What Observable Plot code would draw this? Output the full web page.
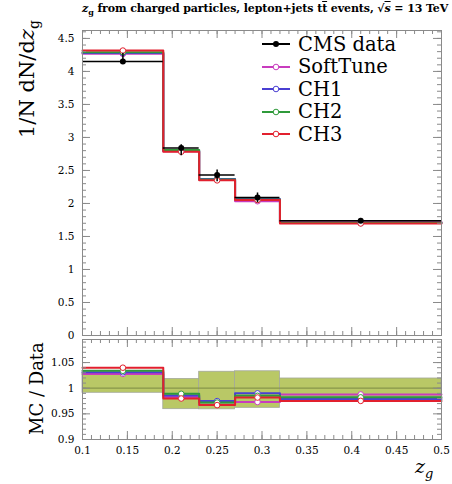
<!DOCTYPE html>
<html>
<head>
<meta charset="utf-8">
<script src="https://cdn.jsdelivr.net/npm/d3@7"></script>
<script src="https://cdn.jsdelivr.net/npm/@observablehq/plot@0.6"></script>
<style>
  html, body { margin: 0; padding: 0; background: white; }
  #wrap { position: relative; width: 452px; height: 484px; overflow: hidden; font-family: "DejaVu Serif", serif; }
  #wrap > svg, #wrap > .p { position: absolute; left: 0; }
  .title { position: absolute; top: 2px; left: 82px; width: 359px; text-align: center; font: bold 11px "DejaVu Serif", serif; white-space: nowrap; letter-spacing: -0.1px; }
  .ylab { position: absolute; font-size: 19px; white-space: nowrap; transform-origin: 0 0; transform: rotate(-90deg); }
  .legend { position: absolute; left: 261px; top: 33px; }
  .legend .row { height: 22.5px; display: flex; align-items: center; font-size: 19.5px; white-space: nowrap; }
  .legend svg { margin-right: 7px; }
  .xlab { position: absolute; left: 415px; top: 455px; font-size: 19px; font-style: italic; }
</style>
</head>
<body>
<div id="wrap"></div>
<script>
// ---- data ----
const binEdges = [0.1, 0.19, 0.23, 0.27, 0.32, 0.5];
const binCenters = [0.145, 0.21, 0.25, 0.295, 0.41];
const cmsData = [4.15, 2.84, 2.43, 2.09, 1.74];
const cmsErrUp = [0.125, 0.051, 0.078, 0.069, 0.033];
const cmsErrDown = [0.037, 0.116, 0.100, 0.080, 0.030];
const softTune = [4.266, 2.792, 2.364, 2.034, 1.719];
const ch1 = [4.279, 2.800, 2.369, 2.069, 1.703];
const ch2 = [4.291, 2.809, 2.362, 2.059, 1.709];
const ch3 = [4.316, 2.783, 2.350, 2.052, 1.697];
const seriesNames = ["SoftTune", "CH1", "CH2", "CH3"];
const seriesColors = ["#c83cbe", "#4a3fd2", "#2f9a3a", "#e2202e"];
const seriesValues = [softTune, ch1, ch2, ch3];
const legendLabels = ["CMS data", "SoftTune", "CH1", "CH2", "CH3"];
const xTickLabels = [0.1, 0.15, 0.2, 0.25, 0.3, 0.35, 0.4, 0.45, 0.5];
const yTickLabelsTop = [0, 0.5, 1, 1.5, 2, 2.5, 3, 3.5, 4, 4.5];
const yTickLabelsRatio = [0.9, 0.95, 1, 1.05];

// ---- layout ----
const W = 452, ML = 82, MR = 11;
const FW = W - ML - MR;
const xMinor = d3.range(0.1, 0.5001, 0.01);
const fmt = d3.format("~g");
const frameColor = "#8a8a8a";

const bins = binCenters.map((c, i) => ({
  lo: binEdges[i], hi: binEdges[i + 1], c,
  data: cmsData[i], up: cmsErrUp[i], down: cmsErrDown[i]
}));
function steps(vals, ratio) {
  return vals.flatMap((v, i) => {
    const y = ratio ? v / cmsData[i] : v;
    return [{x: binEdges[i], y}, {x: binEdges[i + 1], y}];
  });
}
function tickMarks(xMaj, xMin, yMaj, yMin, fh) {
  const s = {stroke: frameColor, strokeWidth: 1};
  return [
    Plot.tickX(xMaj, {x: d => d, insetTop: fh - 8, ...s}),
    Plot.tickX(xMaj, {x: d => d, insetBottom: fh - 8, ...s}),
    Plot.tickX(xMin, {x: d => d, insetTop: fh - 4, ...s}),
    Plot.tickX(xMin, {x: d => d, insetBottom: fh - 4, ...s}),
    Plot.tickY(yMaj, {y: d => d, insetRight: FW - 8, ...s}),
    Plot.tickY(yMaj, {y: d => d, insetLeft: FW - 8, ...s}),
    Plot.tickY(yMin, {y: d => d, insetRight: FW - 4, ...s}),
    Plot.tickY(yMin, {y: d => d, insetLeft: FW - 4, ...s}),
    Plot.frame({stroke: frameColor, strokeWidth: 1})
  ];
}

// ---- top panel ----
const topH = 340, topMT = 30, topMB = 5;
const topPlot = Plot.plot({
  width: W, height: topH,
  marginLeft: ML, marginRight: MR, marginTop: topMT, marginBottom: topMB,
  style: {fontFamily: "DejaVu Serif, serif", fontSize: "10.5px", background: "transparent", overflow: "visible"},
  x: {domain: [0.1, 0.5], axis: null},
  y: {domain: [0, 4.62], ticks: yTickLabelsTop, tickFormat: fmt, tickSize: 0, tickPadding: 8, label: null},
  marks: [
    ...seriesValues.map((vals, k) => Plot.line(steps(vals, false), {x: "x", y: "y", stroke: seriesColors[k], strokeWidth: 2})),
    ...seriesValues.map((vals, k) => Plot.dot(binCenters.map((c, i) => ({c, v: vals[i]})), {x: "c", y: "v", r: 2.8, fill: "white", stroke: seriesColors[k], strokeWidth: 1})),
    Plot.ruleY(bins, {y: "data", x1: "lo", x2: "hi", stroke: "black", strokeWidth: 1.5}),
    Plot.ruleX(bins, {x: "c", y1: d => d.data - d.down, y2: d => d.data + d.up, stroke: "black", strokeWidth: 1.5}),
    Plot.dot(bins, {x: "c", y: "data", r: 3, fill: "black"}),
    ...tickMarks(xTickLabels, xMinor, yTickLabelsTop, d3.range(0, 4.62, 0.1), topH - topMT - topMB)
  ]
});

// ---- ratio panel ----
const botTop = 335, botH = 149, botMT = 4, botMB = 45;
const botPlot = Plot.plot({
  width: W, height: botH,
  marginLeft: ML, marginRight: MR, marginTop: botMT, marginBottom: botMB,
  style: {fontFamily: "DejaVu Serif, serif", fontSize: "10.5px", background: "transparent", overflow: "visible"},
  x: {domain: [0.1, 0.5], ticks: xTickLabels, tickFormat: fmt, tickSize: 0, tickPadding: 7, label: null},
  y: {domain: [0.9, 1.095], ticks: yTickLabelsRatio, tickFormat: fmt, tickSize: 0, tickPadding: 8, label: null},
  marks: [
    Plot.rect(bins, {x1: "lo", x2: "hi", y1: d => 1 - d.down / d.data, y2: d => 1 + d.up / d.data, fill: "#b9c866", stroke: "#a3a89a", strokeWidth: 0.8}),
    Plot.ruleY([1], {stroke: "#87964a", strokeWidth: 1.2}),
    ...seriesValues.map((vals, k) => Plot.line(steps(vals, true), {x: "x", y: "y", stroke: seriesColors[k], strokeWidth: 2})),
    ...seriesValues.map((vals, k) => Plot.dot(binCenters.map((c, i) => ({c, v: vals[i] / cmsData[i]})), {x: "c", y: "v", r: 2.8, fill: "white", stroke: seriesColors[k], strokeWidth: 1})),
    ...tickMarks(xTickLabels, xMinor, yTickLabelsRatio, d3.range(0.9, 1.0951, 0.01), botH - botMT - botMB)
  ]
});

const wrap = document.getElementById("wrap");
topPlot.style.top = "0px";
botPlot.style.top = botTop + "px";
wrap.appendChild(topPlot);
wrap.appendChild(botPlot);

// title
const title = document.createElement("div");
title.className = "title";
title.innerHTML = '<i>z</i><sub style="font-size:8px">g</sub> from charged particles, lepton+jets t<span style="text-decoration:overline">t</span> events, &radic;<span style="text-decoration:overline"><i>s</i></span> = 13 TeV';
wrap.appendChild(title);

// y labels
const yl1 = document.createElement("div");
yl1.className = "ylab";
yl1.style.fontSize = "21px";
yl1.innerHTML = '1/N dN/d<i>z</i><sub style="font-size:14px">g</sub>';
wrap.appendChild(yl1);
const yl2 = document.createElement("div");
yl2.className = "ylab";
yl2.style.fontSize = "18px";
yl2.textContent = "MC / Data";
wrap.appendChild(yl2);
function placeY(el, xLeft, yTopEnd, yCenter) {
  const w = el.offsetWidth;
  el.style.left = xLeft + "px";
  if (yCenter != null) el.style.top = (yCenter + w / 2) + "px";
  else el.style.top = (yTopEnd + w) + "px";
}
placeY(yl1, 15, 20, null);
placeY(yl2, 26, null, 388);

// legend
const leg = document.createElement("div");
leg.className = "legend";
legendLabels.forEach((lab, i) => {
  const row = document.createElement("div");
  row.className = "row";
  const color = i === 0 ? "black" : seriesColors[i - 1];
  const mk = i === 0
    ? `<circle cx="15" cy="6" r="3" fill="black"/>`
    : `<circle cx="15" cy="6" r="2.8" fill="white" stroke="${color}" stroke-width="1"/>`;
  row.innerHTML = `<svg width="30" height="12"><line x1="1" x2="29" y1="6" y2="6" stroke="${color}" stroke-width="2"/>${mk}</svg><span>${lab}</span>`;
  leg.appendChild(row);
});
wrap.appendChild(leg);

// x label
const xl = document.createElement("div");
xl.className = "xlab";
xl.innerHTML = 'z<sub style="font-size:13px">g</sub>';
wrap.appendChild(xl);
</script>
</body>
</html>
